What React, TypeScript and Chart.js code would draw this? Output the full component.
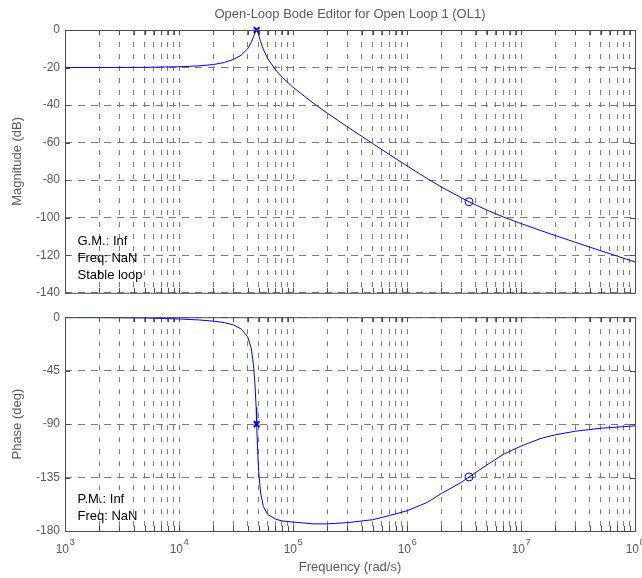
import React, { useEffect, useRef } from "react";
import { Chart, registerables } from "chart.js";

Chart.register(...registerables);

const FONT = '"Liberation Sans", Arial, Helvetica, sans-serif';
const GRID = "#7a7a7a";
const FRAME = "#4d4d4d";
const LABEL = "#5a5a5a";
const BLUE = "#0000ff";

const titleText = "Open-Loop Bode Editor for Open Loop 1 (OL1)";
const xAxisLabel = "Frequency (rad/s)";
const magAxisLabel = "Magnitude (dB)";
const phaseAxisLabel = "Phase (deg)";

const frequency = [
  1e3, 2e3, 5e3, 1e4, 1.5e4, 2e4, 2.5e4, 3e4, 3.5e4, 4e4, 4.3e4, 4.5e4, 4.65e4, 4.75e4,
  4.8e4, 4.9e4, 5e4, 5.2e4, 5.5e4, 6e4, 7e4, 8e4, 1e5, 1.5e5, 2e5, 3e5, 5e5, 7e5, 1e6,
  1.5e6, 2e6, 3e6, 3.5e6, 5e6, 7e6, 1e7, 1.5e7, 2e7, 3e7, 5e7, 7e7, 1e8,
];
const magnitudeDb = [
  -20, -20, -19.9, -19.6, -19.1, -18.4, -17.3, -15.7, -13.5, -10, -6.7, -3.7, -1.2, -0.1,
  0, -0.9, -2.6, -6.2, -10.4, -15.2, -21.1, -25, -30.5, -38.9, -44.3, -51.6, -60.5, -66.3,
  -72.4, -79.1, -83.6, -89.4, -91.5, -95.9, -99.6, -103.1, -106.9, -109.5, -113.1, -117.6,
  -120.5, -123.6,
];
const phaseDeg = [
  -0.1, -0.3, -0.6, -1.5, -2.3, -3.3, -4.6, -6.5, -9.8, -16.5, -26, -40, -58, -76,
  -90, -113, -130, -148, -159.5, -166, -170, -171.5, -172.5, -174, -174, -173, -170.5, -167,
  -163, -156, -148.5, -139, -134.5, -124.5, -115.5, -108.5, -102, -99, -96, -93.5,
  -92.5, -91.5,
];

// markers: resonance (x) and zero (o)
const peakFreq = [4.8e4];
const peakMag = [0];
const peakPhase = [-90];
const zeroFreq = [3.5e6];
const zeroMag = [-91.5];
const zeroPhase = [-134.5];

const decadeValues = [1e3, 1e4, 1e5, 1e6, 1e7, 1e8];
const decadeExponents = ["3", "4", "5", "6", "7", "8"];
const minorMultipliers = [1, 2, 3, 4, 5, 6, 7, 8, 9];
const magTicks = [-140, -120, -100, -80, -60, -40, -20, 0];
const phaseTicks = [-180, -135, -90, -45, 0];

const gmLines = ["G.M.: Inf", "Freq: NaN", "Stable loop"];
const pmLines = ["P.M.: Inf", "Freq: NaN"];

const xGridValues: number[] = [];
decadeValues.forEach((d, i) => {
  if (i === decadeValues.length - 1) xGridValues.push(d);
  else minorMultipliers.forEach((m) => xGridValues.push(d * m));
});

function xScale(bottom: boolean) {
  return {
    type: "logarithmic" as const,
    min: 1e3,
    max: 1e8,
    afterBuildTicks: (s: any) => {
      s.ticks = xGridValues.map((v) => ({ value: v }));
    },
    afterFit: (s: any) => {
      s.height = bottom ? 47 : 0;
    },
    ticks: { display: false, autoSkip: false },
    grid: { color: GRID, lineWidth: 1, drawTicks: false },
    border: { display: false, dash: [5, 7] },
    title: bottom
      ? {
          display: true,
          text: xAxisLabel,
          color: LABEL,
          font: { family: FONT, size: 13 },
          padding: { top: 0, bottom: 3 },
        }
      : { display: false },
  };
}

function yScale(ticks: number[], label: string) {
  return {
    type: "linear" as const,
    min: ticks[0],
    max: ticks[ticks.length - 1],
    afterBuildTicks: (s: any) => {
      s.ticks = ticks.map((v) => ({ value: v }));
    },
    afterFit: (s: any) => {
      s.width = 65;
    },
    ticks: {
      color: LABEL,
      font: { family: FONT, size: 12 },
      padding: 5,
      autoSkip: false,
    },
    grid: { color: GRID, lineWidth: 1, drawTicks: false },
    border: { display: false, dash: [7, 6] },
    title: {
      display: true,
      text: label,
      color: LABEL,
      font: { family: FONT, size: 13 },
      padding: { top: 10, bottom: 0 },
    },
  };
}

function framePlugin(extra: (chart: any) => void) {
  return {
    id: "frame",
    afterDraw(chart: any) {
      const { ctx, chartArea, scales } = chart;
      const { left, right, top, bottom } = chartArea;
      ctx.save();
      ctx.strokeStyle = FRAME;
      ctx.lineWidth = 1;
      ctx.setLineDash([]);
      const tl = 5;
      ctx.beginPath();
      scales.x.ticks.forEach((t: any) => {
        const px = Math.round(scales.x.getPixelForValue(t.value)) + 0.5;
        ctx.moveTo(px, top);
        ctx.lineTo(px, top + tl);
        ctx.moveTo(px, bottom);
        ctx.lineTo(px, bottom - tl);
      });
      scales.y.ticks.forEach((t: any) => {
        const py = Math.round(scales.y.getPixelForValue(t.value)) + 0.5;
        ctx.moveTo(left, py);
        ctx.lineTo(left + tl, py);
        ctx.moveTo(right, py);
        ctx.lineTo(right - tl, py);
      });
      ctx.stroke();
      ctx.strokeRect(left + 0.5, top + 0.5, right - left, bottom - top);
      ctx.restore();
      ctx.save();
      extra(chart);
      ctx.restore();
    },
  };
}

function lineData(xs: number[], ys: number[]) {
  return xs.map((x, i) => ({ x, y: ys[i] }));
}

function datasets(curve: number[], xMarkY: number[], oMarkY: number[]) {
  return [
    {
      data: lineData(peakFreq, xMarkY),
      borderColor: BLUE,
      backgroundColor: BLUE,
      pointStyle: "crossRot",
      pointRadius: 4,
      pointBorderWidth: 2,
      showLine: false,
      clip: false as const,
    },
    {
      data: lineData(zeroFreq, oMarkY),
      borderColor: BLUE,
      backgroundColor: "rgba(0,0,0,0)",
      pointStyle: "circle",
      pointRadius: 4,
      pointBorderWidth: 1,
      showLine: false,
      clip: false as const,
    },
    {
      data: lineData(frequency, curve),
      borderColor: BLUE,
      borderWidth: 1,
      pointRadius: 0,
      tension: 0,
      fill: false,
    },
  ];
}

export default function App() {
  const topRef = useRef<HTMLCanvasElement>(null);
  const botRef = useRef<HTMLCanvasElement>(null);

  useEffect(() => {
    Chart.defaults.font.family = FONT;
    const top = new Chart(topRef.current!, {
      type: "line",
      data: { datasets: datasets(magnitudeDb, peakMag, zeroMag) as any },
      options: {
        responsive: false,
        animation: false,
        devicePixelRatio: 1,
        layout: { padding: { top: 30, right: 7, bottom: 9, left: 0 } },
        plugins: { legend: { display: false }, tooltip: { enabled: false }, title: { display: false } },
        scales: { x: xScale(false) as any, y: yScale(magTicks, magAxisLabel) as any },
      },
      plugins: [
        framePlugin((chart: any) => {
          const { ctx, chartArea } = chart;
          ctx.fillStyle = LABEL;
          ctx.font = `13px ${FONT}`;
          ctx.textAlign = "center";
          ctx.textBaseline = "alphabetic";
          ctx.fillText(titleText, (chartArea.left + chartArea.right) / 2, 17.5);
          ctx.fillStyle = "#000";
          ctx.textAlign = "left";
          gmLines.forEach((t, i) => {
            ctx.fillText(t, chartArea.left + 12.5, chartArea.bottom - 47.7 + i * 16.7);
          });
        }),
      ],
    });
    const bot = new Chart(botRef.current!, {
      type: "line",
      data: { datasets: datasets(phaseDeg, peakPhase, zeroPhase) as any },
      options: {
        responsive: false,
        animation: false,
        devicePixelRatio: 1,
        layout: { padding: { top: 9, right: 7, bottom: 0, left: 0 } },
        plugins: { legend: { display: false }, tooltip: { enabled: false }, title: { display: false } },
        scales: { x: xScale(true) as any, y: yScale(phaseTicks, phaseAxisLabel) as any },
      },
      plugins: [
        framePlugin((chart: any) => {
          const { ctx, chartArea, scales } = chart;
          ctx.fillStyle = "#000";
          ctx.font = `13px ${FONT}`;
          ctx.textAlign = "left";
          ctx.textBaseline = "alphabetic";
          pmLines.forEach((t, i) => {
            ctx.fillText(t, chartArea.left + 12.5, chartArea.bottom - 27.7 + i * 16.7);
          });
          ctx.fillStyle = LABEL;
          const base = chartArea.bottom + 22.3;
          decadeValues.forEach((v, i) => {
            const px = scales.x.getPixelForValue(v);
            ctx.font = `12px ${FONT}`;
            const w1 = ctx.measureText("10").width;
            ctx.font = `9.5px ${FONT}`;
            const w2 = ctx.measureText(decadeExponents[i]).width;
            const x0 = px - (w1 + w2) / 2;
            ctx.font = `12px ${FONT}`;
            ctx.fillText("10", x0, base);
            ctx.font = `9.5px ${FONT}`;
            ctx.fillText(decadeExponents[i], x0 + w1 + 0.5, base - 8);
          });
        }),
      ],
    });
    return () => {
      top.destroy();
      bot.destroy();
    };
  }, []);

  return (
    <div style={{ position: "absolute", left: 0, top: 0, width: 642, height: 578, background: "#fff" }}>
      <canvas ref={topRef} width={642} height={305} style={{ position: "absolute", left: 0, top: 0 }} />
      <canvas ref={botRef} width={642} height={273} style={{ position: "absolute", left: 0, top: 305 }} />
    </div>
  );
}
